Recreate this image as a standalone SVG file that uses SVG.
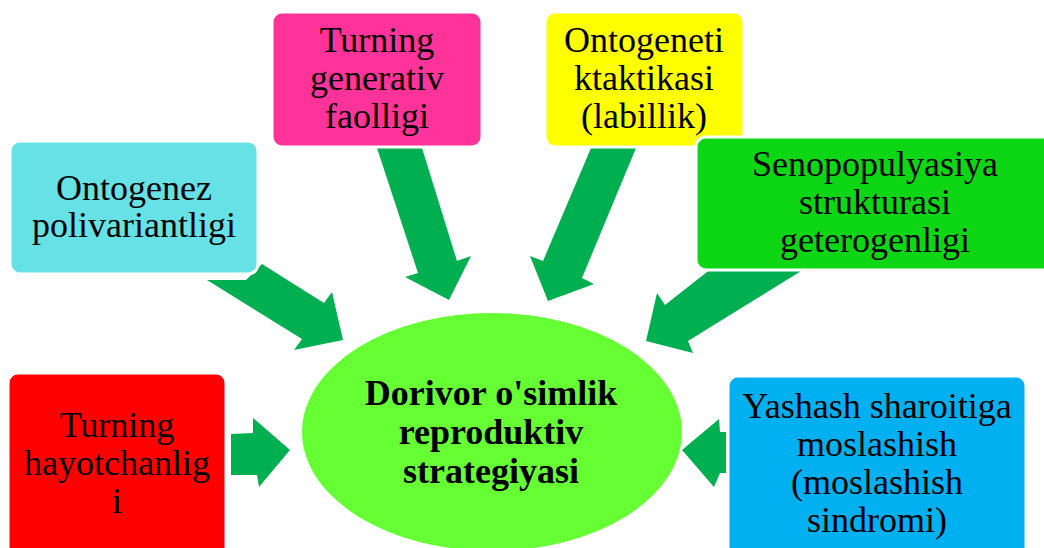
<svg xmlns="http://www.w3.org/2000/svg" width="1044" height="548" viewBox="0 0 1044 548">
<style>
.box{stroke:#fff;stroke-width:3}
.t{font-family:"Liberation Serif","Times New Roman",serif;font-size:36px;fill:#000;text-anchor:middle}
.b{font-weight:bold;font-size:36px}
.arr{fill:#00B050}
</style>
<rect width="1044" height="548" fill="#fff"/>
<g id="connectors">
<polygon class="arr" points="207,280 246,280 262,264 324,303 332,292 343,340 294,350 302,339"/>
<polygon class="arr" points="377,148 422,148 457,261 471,256 449,300 405,277 418,273"/>
<polygon class="arr" points="591,148 636,148 582,278 594,284 548,301 530,256 543,261"/>
<polygon class="arr" points="712,268 806,268 688,341 693,353 646,341 657,293 665,305"/>
<polygon class="arr" points="231,434 253,433 253,418 290,450 259,487 257,475 231,475"/>
<polygon class="arr" points="726,432 720,432 719,419 682,450 714,487 720,473 726,473"/>
</g>
<g id="center">
<ellipse cx="492" cy="432" rx="190" ry="119" fill="#66FF33"/>
<text class="t b" x="491" y="405">Dorivor o'simlik</text>
<text class="t b" x="491" y="444">reproduktiv</text>
<text class="t b" x="491" y="483">strategiyasi</text>
</g>
<g id="node-pink">
<rect class="box" x="272" y="12" width="210" height="135" rx="10" fill="#FF3399"/>
<text class="t" x="377" y="52">Turning</text>
<text class="t" x="377" y="90">generativ</text>
<text class="t" x="377" y="128">faolligi</text>
</g>
<g id="node-yellow">
<rect class="box" x="545" y="12" width="199" height="135" rx="10" fill="#FFFF00"/>
<text class="t" x="644" y="52">Ontogeneti</text>
<text class="t" x="644" y="90">ktaktikasi</text>
<text class="t" x="644" y="128">(labillik)</text>
</g>
<g id="node-green">
<rect class="box" x="696" y="137" width="360" height="133" rx="10" fill="#0DD615"/>
<text class="t" x="875" y="176">Senopopulyasiya</text>
<text class="t" x="875" y="214">strukturasi</text>
<text class="t" x="875" y="252">geterogenligi</text>
</g>
<g id="node-cyan">
<rect class="box" x="10" y="141" width="248" height="133" rx="10" fill="#66E2E6"/>
<text class="t" x="134" y="200">Ontogenez</text>
<text class="t" x="134" y="237">polivariantligi</text>
</g>
<g id="node-red">
<rect class="box" x="8" y="373" width="218" height="190" rx="10" fill="#FF0000"/>
<text class="t" x="117" y="437">Turning</text>
<text class="t" x="117" y="475">hayotchanlig</text>
<text class="t" x="117" y="513">i</text>
</g>
<g id="node-blue">
<rect class="box" x="728" y="376" width="298" height="190" rx="10" fill="#00B0F0"/>
<text class="t" x="877" y="418">Yashash sharoitiga</text>
<text class="t" x="877" y="456">moslashish</text>
<text class="t" x="877" y="494">(moslashish</text>
<text class="t" x="877" y="532">sindromi)</text>
</g>
</svg>
